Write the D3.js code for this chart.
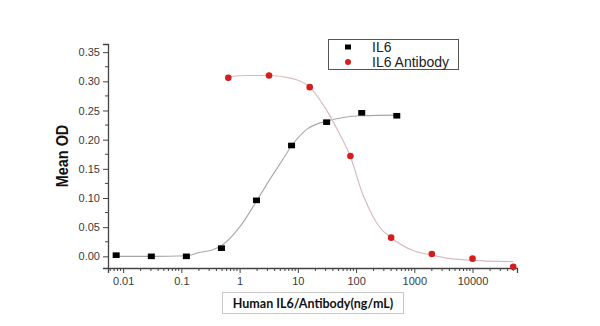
<!DOCTYPE html>
<html>
<head>
<meta charset="utf-8">
<script src="https://cdnjs.cloudflare.com/ajax/libs/d3/7.8.5/d3.min.js"></script>
<style>
  body { margin: 0; background: #fff; }
  svg { display: block; }
</style>
</head>
<body>
<script>
// measured points
var il6Conc = [0.0076, 0.0305, 0.122, 0.488, 1.95, 7.8, 31.25, 125, 500];
var il6OD = [0.002, 0.000, 0.000, 0.014, 0.096, 0.190, 0.230, 0.246, 0.241];
var abConc = [0.64, 3.2, 16, 80, 400, 2000, 10000, 50000];
var abOD = [0.306, 0.310, 0.290, 0.172, 0.032, 0.004, -0.004, -0.018];

// fitted curves
var il6FitConc = [0.0076, 0.030, 0.125, 0.21, 0.34, 0.50, 1.0, 1.99, 3.46, 4.9, 7.9, 14.4, 31.7, 60, 127, 504];
var il6FitOD = [0.000, 0.000, 0.001, 0.007, 0.011, 0.019, 0.050, 0.096, 0.135, 0.158, 0.190, 0.218, 0.232, 0.238, 0.241, 0.242];
var abFitConc = [0.63, 1.29, 3.2, 7.9, 15.9, 29.3, 49, 79, 132, 196, 258, 400, 955, 2000, 3660, 9900, 50000];
var abFitOD = [0.308, 0.310, 0.310, 0.305, 0.290, 0.255, 0.215, 0.172, 0.105, 0.068, 0.049, 0.032, 0.010, 0.002, -0.003, -0.007, -0.009];

var xTicks = [0.01, 0.1, 1, 10, 100, 1000, 10000];
var xTickLabels = ["0.01", "0.1", "1", "10", "100", "1000", "10000"];
var yTicks = [0, 0.05, 0.10, 0.15, 0.20, 0.25, 0.30, 0.35];

var W = 600, H = 326;
var svg = d3.select("body").append("svg").attr("width", W).attr("height", H);

var x = d3.scaleLog().domain([0.0055, 58000]).range([108, 517]);
var y = d3.scaleLinear().domain([-0.02, 0.364]).range([268, 44]);

var axisColor = "#444";
var tickFont = "'Liberation Sans', Arial, sans-serif";

// minor ticks on log x axis
var minorX = [];
for (var e = -3; e <= 4; e++) {
    for (var m = 2; m <= 9; m++) {
        var v = m * Math.pow(10, e);
        if (v >= x.domain()[0] && v <= x.domain()[1]) minorX.push(v);
    }
}
// minor ticks on y axis (halfway between labels)
var minorY = d3.range(0, 8).map(function(i) { return i * 0.05 - 0.025; }).filter(function(v) {
    return v >= -0.02;
}).concat([0.375]).filter(function(v) { return v <= 0.364; });

// x axis
var gx = svg.append("g").attr("transform", "translate(0,268)");
gx.call(d3.axisBottom(x).tickValues(xTicks).tickFormat(function(d, i) { return xTickLabels[i]; }).tickSize(5).tickPadding(4));
gx.append("g").selectAll("line").data(minorX).join("line")
    .attr("x1", function(d) { return x(d); }).attr("x2", function(d) { return x(d); })
    .attr("y1", 0).attr("y2", 3).attr("stroke", axisColor);

// y axis
var gy = svg.append("g").attr("transform", "translate(108,0)");
gy.call(d3.axisLeft(y).tickValues(yTicks).tickFormat(d3.format(".2f")).tickSize(5).tickPadding(3));
gy.append("g").selectAll("line").data(minorY).join("line")
    .attr("y1", function(d) { return y(d); }).attr("y2", function(d) { return y(d); })
    .attr("x1", 0).attr("x2", -3).attr("stroke", axisColor);

[gx, gy].forEach(function(g) {
    g.select(".domain").attr("stroke", axisColor).attr("stroke-width", 1.3);
    g.selectAll(".tick line").attr("stroke", axisColor);
    g.selectAll("text").attr("font-family", tickFont).attr("font-size", 11).attr("fill", "#3a3a3a");
});

// fitted curves
var line = d3.line().curve(d3.curveMonotoneX);
svg.append("path")
    .attr("d", line(il6FitConc.map(function(c, i) { return [x(c), y(il6FitOD[i])]; })))
    .attr("fill", "none").attr("stroke", "#a8a8a8").attr("stroke-width", 1.1);
svg.append("path")
    .attr("d", line(abFitConc.map(function(c, i) { return [x(c), y(abFitOD[i])]; })))
    .attr("fill", "none").attr("stroke", "#d8bcbc").attr("stroke-width", 1.2);

// points
svg.append("g").selectAll("rect").data(il6Conc).join("rect")
    .attr("x", function(d) { return x(d) - 3.5; })
    .attr("y", function(d, i) { return y(il6OD[i]) - 2.8; })
    .attr("width", 7).attr("height", 5.6).attr("fill", "#000");
svg.append("g").selectAll("circle").data(abConc).join("circle")
    .attr("cx", function(d) { return x(d); })
    .attr("cy", function(d, i) { return y(abOD[i]); })
    .attr("r", 3.3).attr("fill", "#d41e1e");

// legend
var lg = svg.append("g");
lg.append("rect").attr("x", 328.5).attr("y", 39.5).attr("width", 130).attr("height", 30)
    .attr("fill", "#fff").attr("stroke", "#555").attr("stroke-width", 1);
lg.append("rect").attr("x", 345).attr("y", 44.5).attr("width", 6).attr("height", 5).attr("fill", "#000");
lg.append("circle").attr("cx", 348).attr("cy", 62).attr("r", 3).attr("fill", "#d41e1e");
lg.append("text").attr("x", 372).attr("y", 52).text("IL6")
    .attr("font-family", tickFont).attr("font-size", 14).attr("fill", "#222");
lg.append("text").attr("x", 372).attr("y", 67).text("IL6 Antibody")
    .attr("font-family", tickFont).attr("font-size", 14).attr("fill", "#222");

// axis titles
svg.append("rect").attr("x", 222.5).attr("y", 292.5).attr("width", 181).attr("height", 21)
    .attr("fill", "#fff").attr("stroke", "#c8c8c8");
svg.append("text").attr("x", 313).attr("y", 307.5).attr("text-anchor", "middle")
    .attr("font-family", "Lato, 'Open Sans', sans-serif").attr("font-weight", "bold")
    .attr("font-size", 12.5).attr("fill", "#111").text("Human IL6/Antibody(ng/mL)");

svg.append("text").attr("transform", "translate(68,156) rotate(-90) scale(0.85,1)").attr("text-anchor", "middle")
    .attr("font-family", "'Liberation Sans', Arial, sans-serif")
    .attr("font-weight", "bold").attr("font-size", 17).attr("fill", "#111").text("Mean OD");
</script>
</body>
</html>
